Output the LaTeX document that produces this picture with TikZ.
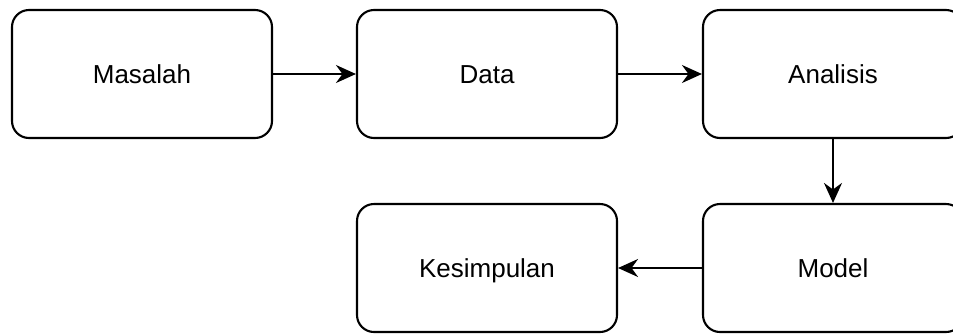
\documentclass[tikz,border=0pt]{standalone}
\usepackage{fontspec}
\setmainfont{Liberation Sans}
\usetikzlibrary{arrows.meta}
\begin{document}
\begin{tikzpicture}[x=1pt,y=-1pt,
  stepbox/.style={draw=black, line width=2.1pt, rounded corners=17pt,
    minimum width=260pt, minimum height=128pt, inner sep=0pt,
    text height=18.6pt, text depth=0pt,
    font=\fontsize{26pt}{30pt}\selectfont},
  flow/.style={line width=2.1pt, -{Stealth[length=20pt,width=18pt,inset=6.5pt]}}]
  \useasboundingbox (0,0) rectangle (953,333);
  \node[stepbox] (masalah) at (142,74) {Masalah};
  \node[stepbox] (data) at (487,74) {Data};
  \node[stepbox] (analisis) at (833,74) {Analisis};
  \node[stepbox] (model) at (833,268) {Model};
  \node[stepbox] (kesimpulan) at (487,268) {Kesimpulan};
  \draw[flow] (masalah) -- (data);
  \draw[flow] (data) -- (analisis);
  \draw[flow] (analisis) -- (model);
  \draw[flow] (model) -- (kesimpulan);
\end{tikzpicture}
\end{document}
